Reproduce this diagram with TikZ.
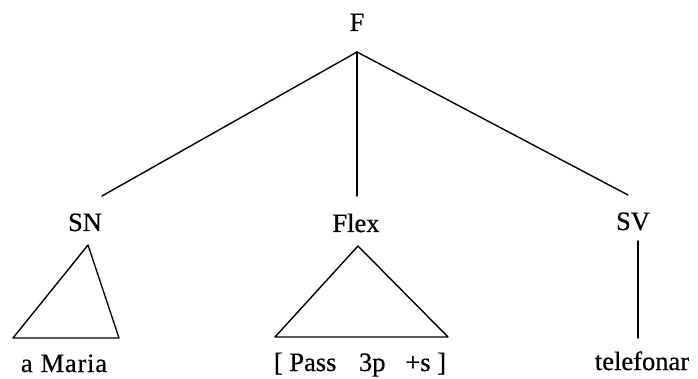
\documentclass[tikz,border=0pt]{standalone}
\usepackage{fontspec}
\setmainfont[FakeBold=0.6]{Liberation Serif}
\begin{document}
\begin{tikzpicture}[x=1pt,y=-1pt,
  lbl/.style={inner sep=0pt, anchor=base, font=\fontsize{26.5}{30}\selectfont},
  edge/.style={line width=1.4pt, line cap=round, line join=round}]
\useasboundingbox[fill=white] (0,0) rectangle (698,379);
% labels
\node[lbl] (F) at (357,31) {F};
\node[lbl] (SN) at (85,231) {SN};
\node[lbl] (Flex) at (356,232) {Flex};
\node[lbl] (SV) at (633,230) {SV};
\node[lbl] (maria) at (64,372) {a\hspace{0.3em}M\hspace{0.03em}a\hspace{0.03em}r\hspace{0.03em}i\hspace{0.03em}a};
\node[lbl] (pass) at (360,371) {[\hspace{0.25em}Pass\hspace{0.85em}3p\hspace{0.75em}+s\hspace{0.25em}]};
\node[lbl] (tel) at (642,370) {telefonar};
% connector ends
\coordinate (Fb) at (357,52);
\coordinate (SNt) at (102,196);
\coordinate (Flext) at (357,196);
\coordinate (SVt) at (628,195);
\coordinate (SVb) at (638,241);
\coordinate (telt) at (638,338);
\draw[edge] (Fb) -- (SNt);
\draw[edge] (Fb) -- (Flext);
\draw[edge] (Fb) -- (SVt);
\draw[edge] (SVb) -- (telt);
% triangles
\coordinate (snA) at (88,245);
\coordinate (snL) at (13,338);
\coordinate (snR) at (119,338);
\draw[edge] (snA) -- (snL) -- (snR) -- cycle;
\coordinate (flA) at (358,246);
\coordinate (flL) at (275,337);
\coordinate (flR) at (448,337);
\draw[edge] (flA) -- (flL) -- (flR) -- cycle;
\end{tikzpicture}
\end{document}
